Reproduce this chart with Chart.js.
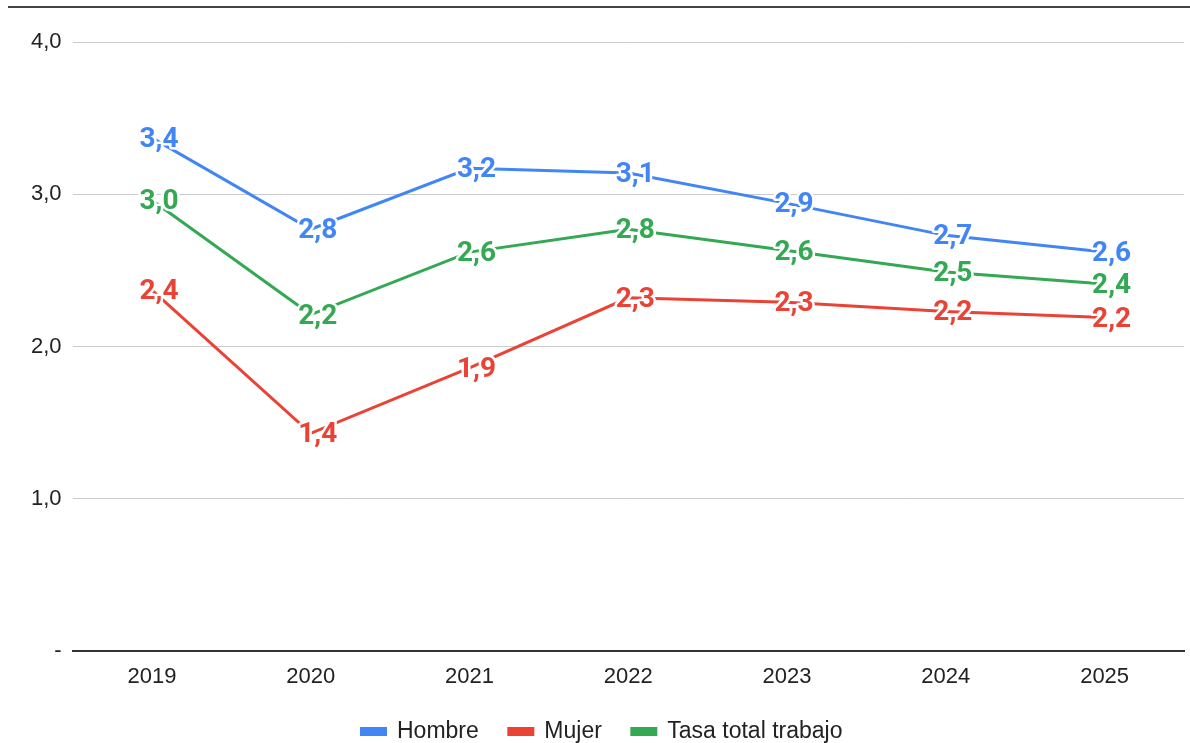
<!DOCTYPE html>
<html>
<head>
<meta charset="utf-8">
<script src="https://cdn.jsdelivr.net/npm/chart.js@4.4.1/dist/chart.umd.min.js"></script>
<style>
  html, body { margin: 0; padding: 0; background: #ffffff; }
  #wrap { width: 1190px; height: 743px; position: relative; }
</style>
</head>
<body>
<div id="wrap"><canvas id="c" width="1190" height="743"></canvas></div>
<script>
const years = ['2019', '2020', '2021', '2022', '2023', '2024', '2025'];
const hombre = [3.37, 2.77, 3.17, 3.14, 2.94, 2.73, 2.62];
const mujer = [2.37, 1.43, 1.86, 2.32, 2.29, 2.23, 2.19];
const tasaTotal = [2.96, 2.21, 2.62, 2.77, 2.63, 2.49, 2.41];
const seriesNames = ['Hombre', 'Mujer', 'Tasa total trabajo'];
const seriesColors = ['#4285F4', '#EA4335', '#34A853'];
const yTicks = [0, 1, 2, 3, 4];

function fmt(v) { return v.toFixed(1).replace('.', ','); }

const topRule = {
  id: 'topRule',
  beforeDraw(chart) {
    const ctx = chart.ctx;
    ctx.save();
    ctx.fillStyle = '#ffffff';
    ctx.fillRect(0, 0, chart.width, chart.height);
    ctx.strokeStyle = '#444';
    ctx.lineWidth = 2;
    ctx.beginPath();
    ctx.moveTo(8, 7);
    ctx.lineTo(chart.width, 7);
    ctx.stroke();
    ctx.restore();
  }
};

const valueLabels = {
  id: 'valueLabels',
  afterDatasetsDraw(chart) {
    const ctx = chart.ctx;
    ctx.save();
    ctx.font = 'bold 28px Roboto, "Liberation Sans", Arial, sans-serif';
    ctx.textAlign = 'center';
    ctx.textBaseline = 'middle';
    ctx.lineJoin = 'round';
    chart.data.datasets.forEach((ds, i) => {
      const meta = chart.getDatasetMeta(i);
      meta.data.forEach((pt, j) => {
        const txt = fmt(ds.data[j]);
        const x = pt.x + 7, y = pt.y + 2;
        ctx.strokeStyle = '#ffffff';
        ctx.lineWidth = 5;
        ctx.strokeText(txt, x, y);
        ctx.fillStyle = ds.borderColor;
        ctx.fillText(txt, x, y);
      });
    });
    ctx.restore();
  }
};

const dataArrays = [hombre, mujer, tasaTotal];
const axisFont = { family: '"Liberation Sans", Arial, sans-serif', size: 22 };

new Chart(document.getElementById('c'), {
  type: 'line',
  data: {
    labels: years,
    datasets: dataArrays.map((d, i) => ({
      label: seriesNames[i],
      data: d,
      borderColor: seriesColors[i],
      backgroundColor: seriesColors[i],
      borderWidth: 3,
      pointRadius: 0,
      pointHoverRadius: 0,
      tension: 0,
      fill: false
    }))
  },
  options: {
    responsive: false,
    animation: false,
    devicePixelRatio: 1,
    layout: { padding: { top: 42, right: 6, left: 20, bottom: -10 } },
    plugins: {
      tooltip: { enabled: false },
      legend: {
        position: 'bottom',
        labels: {
          boxWidth: 24,
          boxHeight: 6,
          padding: 30,
          color: '#222',
          font: { family: '"Liberation Sans", Arial, sans-serif', size: 23 }
        }
      }
    },
    scales: {
      x: {
        offset: true,
        grid: { display: false, drawTicks: false },
        border: { display: true, color: '#333', width: 2 },
        ticks: {
          color: '#222',
          padding: 13,
          font: axisFont
        },
        afterFit(axis) { axis.height = 39; }
      },
      y: {
        min: 0,
        max: 4,
        afterBuildTicks(axis) { axis.ticks = yTicks.map(v => ({ value: v })); },
        grid: {
          color: ctx => ctx.tick && ctx.tick.value === 0 ? 'rgba(0,0,0,0)' : '#cccccc',
          lineWidth: 1,
          drawTicks: false
        },
        border: { display: false },
        ticks: {
          color: '#222',
          padding: 11,
          font: axisFont,
          callback: v => v === 0 ? '-' : fmt(v)
        }
      }
    }
  },
  plugins: [topRule, valueLabels]
});
</script>
</body>
</html>
